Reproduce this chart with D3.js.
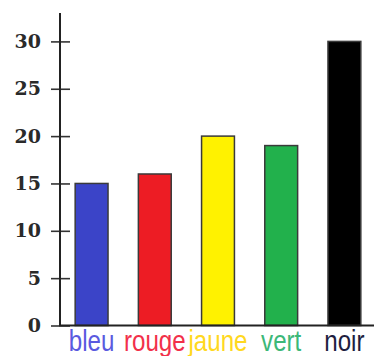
<!DOCTYPE html>
<html>
<head>
<meta charset="utf-8">
<script src="https://cdn.jsdelivr.net/npm/d3@7"></script>
<style>
  html, body { margin: 0; padding: 0; background: #fff; }
  svg { display: block; }
</style>
</head>
<body>
<div id="chart"></div>
<script>
const categories = ["bleu", "rouge", "jaune", "vert", "noir"];
const values = [15, 16, 20, 19, 30];
const barColors = ["#3b44c8", "#ed1c24", "#fff200", "#22b14c", "#000000"];
const labelColors = ["#5a5ae0", "#f2304a", "#ffd820", "#3cb878", "#1e1e40"];
const yTicks = [0, 5, 10, 15, 20, 25, 30];

const W = 374, H = 356;
const svg = d3.select("#chart").append("svg").attr("width", W).attr("height", H);

const x = d3.scaleBand().domain(categories).range([60, 376]).paddingInner(0.48).paddingOuter(0.24);
const y = d3.scaleLinear().domain([0, 33]).range([325.5, 13]);

// bars
svg.append("g").selectAll("rect")
  .data(categories)
  .join("rect")
  .attr("x", d => x(d))
  .attr("y", (d, i) => y(values[i]))
  .attr("width", x.bandwidth())
  .attr("height", (d, i) => y(0) - y(values[i]))
  .attr("fill", (d, i) => barColors[i])
  .attr("stroke", "#3a3a3a")
  .attr("stroke-width", 1.5);

// y axis
const yAxis = d3.axisLeft(y).tickValues(yTicks).tickSize(0).tickPadding(19);
const gy = svg.append("g").attr("transform", "translate(60,0)").call(yAxis);
gy.select(".domain").remove();
gy.selectAll(".tick text")
  .attr("font-family", "'DejaVu Serif', serif")
  .attr("font-size", 19)
  .attr("font-weight", 600)
  .attr("fill", "#2a2a2a");
gy.selectAll(".tick").append("line")
  .attr("x1", -9).attr("x2", 10)
  .attr("stroke", "#333").attr("stroke-width", 1.6);
svg.append("line")
  .attr("x1", 60).attr("x2", 60)
  .attr("y1", y.range()[1]).attr("y2", y(0))
  .attr("stroke", "#222").attr("stroke-width", 2);

// x axis
svg.append("line")
  .attr("x1", 59).attr("x2", W)
  .attr("y1", y(0)).attr("y2", y(0))
  .attr("stroke", "#222").attr("stroke-width", 2);

// category labels
svg.append("g").selectAll("text")
  .data(categories)
  .join("text")
  .attr("transform", d => `translate(${x(d) + x.bandwidth() / 2},350.5) scale(1.05,1.25)`)
  .attr("text-anchor", "middle")
  .attr("font-family", "'Liberation Sans', Arial, sans-serif")
  .attr("font-size", 23)
  .attr("fill", (d, i) => labelColors[i])
  .text(d => d);
</script>
</body>
</html>
